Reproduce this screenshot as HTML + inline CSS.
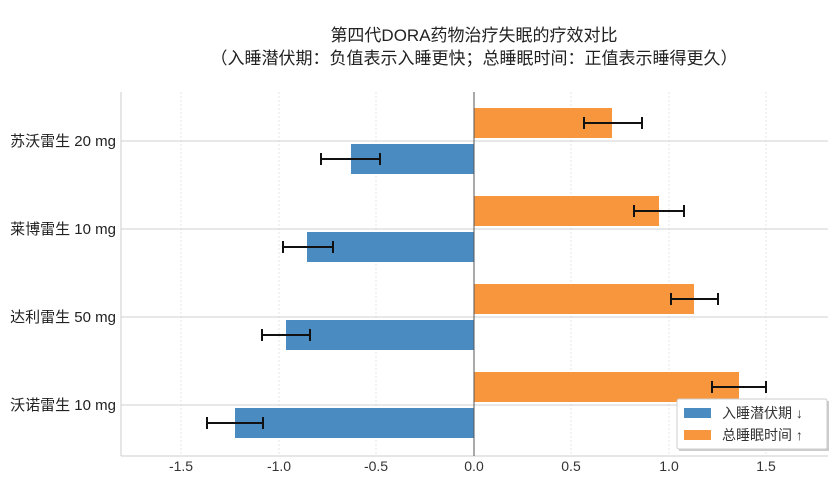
<!DOCTYPE html>
<html><head><meta charset="utf-8"><style>
body{margin:0;background:#fff;width:840px;height:474px;overflow:hidden}
text{font-family:"Liberation Sans","Noto Sans CJK SC",sans-serif}
</style></head><body>
<svg width="840" height="474" xmlns="http://www.w3.org/2000/svg">
<text x="474" y="41" font-size="17" text-anchor="middle" fill="#222">第四代DORA药物治疗失眠的疗效对比</text>
<text x="474" y="64" font-size="17" text-anchor="middle" fill="#222">（入睡潜伏期：负值表示入睡更快；总睡眠时间：正值表示睡得更久）</text>
<g stroke="#e4e4e4" stroke-dasharray="2,2">
<line x1="181" y1="92" x2="181" y2="456"/><line x1="279" y1="92" x2="279" y2="456"/><line x1="376" y1="92" x2="376" y2="456"/><line x1="571" y1="92" x2="571" y2="456"/><line x1="669" y1="92" x2="669" y2="456"/><line x1="766" y1="92" x2="766" y2="456"/>
</g>
<g stroke="#d0d0d0"><line x1="121" y1="141" x2="828" y2="141"/><line x1="121" y1="229" x2="828" y2="229"/><line x1="121" y1="317" x2="828" y2="317"/><line x1="121" y1="405" x2="828" y2="405"/></g>
<line x1="121" y1="92" x2="121" y2="456" stroke="#ccc"/>
<line x1="121" y1="456" x2="828" y2="456" stroke="#ccc"/>
<g fill="#f7963c">
<rect x="474" y="108" width="138" height="30"/><rect x="474" y="196" width="185" height="30"/><rect x="474" y="284" width="220" height="30"/><rect x="474" y="372" width="265" height="30"/>
</g>
<g fill="#4a8bc2">
<rect x="351" y="144" width="123" height="30"/><rect x="307" y="232" width="167" height="30"/><rect x="286" y="320" width="188" height="30"/><rect x="235" y="408" width="239" height="30"/>
</g>
<line x1="474" y1="92" x2="474" y2="456" stroke="#555" stroke-width="1"/>
<g stroke="#111" stroke-width="2">
<path d="M584 123H642M584 117V129M642 117V129"/>
<path d="M321 159H380M321 153V165M380 153V165"/>
<path d="M634 211H684M634 205V217M684 205V217"/>
<path d="M283 247H333M283 241V253M333 241V253"/>
<path d="M671 299H718M671 293V305M718 293V305"/>
<path d="M262 335H310M262 329V341M310 329V341"/>
<path d="M712 387H766M712 381V393M766 381V393"/>
<path d="M207 423H263M207 417V429M263 417V429"/>
</g>
<g font-size="15" fill="#222" text-anchor="end">
<text x="116" y="146">苏沃雷生 20 mg</text><text x="116" y="234">莱博雷生 10 mg</text><text x="116" y="322">达利雷生 50 mg</text><text x="116" y="410">沃诺雷生 10 mg</text>
</g>
<g font-size="14" fill="#333" text-anchor="middle">
<text x="181" y="471">-1.5</text><text x="279" y="471">-1.0</text><text x="376" y="471">-0.5</text><text x="474" y="471">0.0</text><text x="571" y="471">0.5</text><text x="669" y="471">1.0</text><text x="766" y="471">1.5</text>
</g>
<rect x="679" y="401" width="150" height="50" fill="#aaa" opacity="0.6"/>
<rect x="677" y="399" width="150" height="50" fill="#fff" stroke="#ccc" rx="2"/>
<rect x="684" y="408" width="27" height="10" fill="#4a8bc2"/>
<rect x="684" y="430" width="27" height="10" fill="#f7963c"/>
<text x="722" y="418" font-size="14" fill="#333">入睡潜伏期 ↓</text>
<text x="722" y="440" font-size="14" fill="#333">总睡眠时间 ↑</text>
</svg>
</body></html>
